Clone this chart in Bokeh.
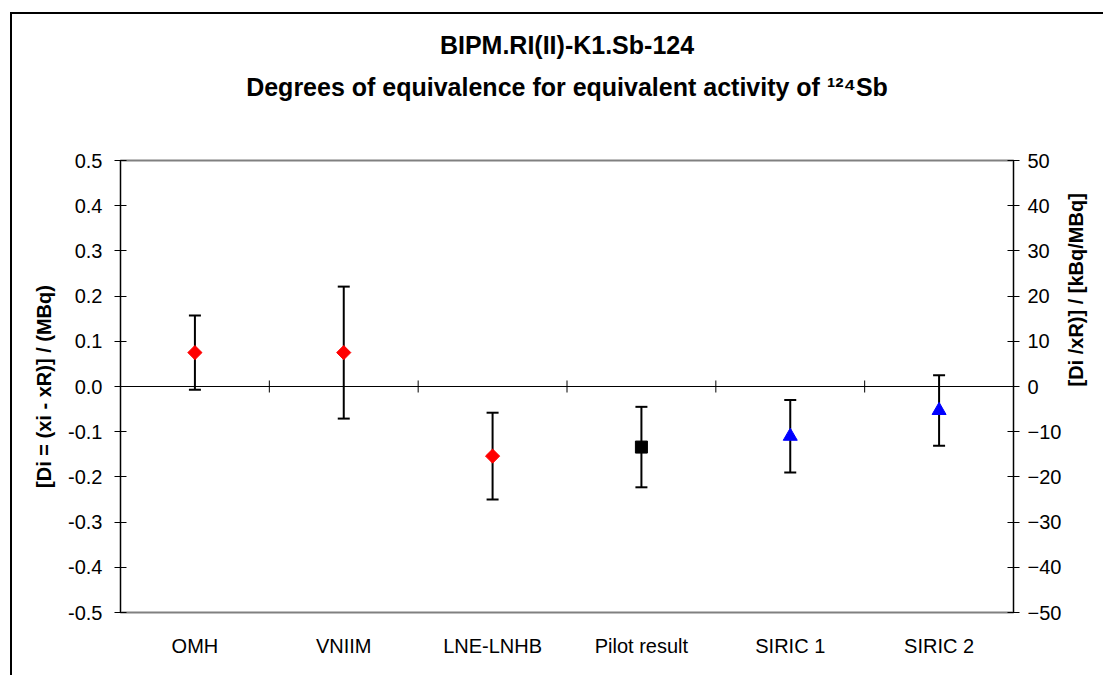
import math
from bokeh.plotting import figure
from bokeh.layouts import column
from bokeh.models import (Range1d, LinearAxis, FixedTicker, NumeralTickFormatter,
                          Whisker, TeeHead, ColumnDataSource, Span, Title)
from bokeh.embed import file_html
from bokeh.resources import INLINE

# ---------------- data ----------------
categories = ["OMH", "VNIIM", "LNE-LNHB", "Pilot result", "SIRIC 1", "SIRIC 2"]
di_values = [0.075, 0.075, -0.154, -0.134, -0.110, -0.053]
uncertainties = [0.082, 0.146, 0.096, 0.089, 0.080, 0.078]
groups = ["lab", "lab", "lab", "pilot", "siric", "siric"]
left_ticks = [-0.5, -0.4, -0.3, -0.2, -0.1, 0.0, 0.1, 0.2, 0.3, 0.4, 0.5]
right_ticks = [-50, -40, -30, -20, -10, 0, 10, 20, 30, 40, 50]
title_line1 = "BIPM.RI(II)-K1.Sb-124"
title_line2 = "Degrees of equivalence for equivalent activity of \u00b9\u00b2\u2074Sb"
left_label = "[Di = (xi - xR)] / (MBq)"
right_label = "[Di /xR)] / [kBq/MBq]"

FONT = "Liberation Sans"

xs = [i + 0.5 for i in range(len(categories))]
src = ColumnDataSource(dict(
    x=xs, y=di_values,
    upper=[v + u for v, u in zip(di_values, uncertainties)],
    lower=[v - u for v, u in zip(di_values, uncertainties)],
    group=groups,
))

p = figure(width=1091, height=661, output_backend="svg", toolbar_location=None,
           x_range=Range1d(0, len(categories)), y_range=Range1d(left_ticks[0], left_ticks[-1]),
           min_border_left=108, min_border_right=90, min_border_top=146, min_border_bottom=63)
p.extra_y_ranges = {"rel": Range1d(right_ticks[0], right_ticks[-1])}
p.xgrid.visible = False
p.ygrid.visible = False
p.outline_line_color = "#808080"
p.outline_line_width = 2
p.background_fill_color = "white"
p.border_fill_color = "white"

# invisible spacer between frame and titles
mid = len(categories) / 2
spacer = LinearAxis(ticker=FixedTicker(ticks=[mid]), major_label_overrides={mid: ""},
                    axis_line_color=None, major_tick_line_color=None,
                    minor_tick_line_color=None, major_tick_in=0, major_tick_out=55,
                    minor_tick_in=0, minor_tick_out=0, major_label_standoff=0,
                    major_label_text_font_size="1px")
p.add_layout(spacer, "above")

# titles (first added sits nearest the frame)
p.add_layout(Title(text=title_line2, align="center", text_font=FONT,
                   text_font_size="25px", text_font_style="bold", text_color="black",
                   standoff=10), "above")
p.add_layout(Title(text=title_line1, align="center", text_font=FONT, text_font_size="25px",
                   text_font_style="bold", text_color="black", standoff=14), "above")

# bottom category axis
xa = p.below[0]
xa.ticker = FixedTicker(ticks=xs)
xa.major_label_overrides = {x: c for x, c in zip(xs, categories)}
xa.major_tick_in = 0
xa.major_tick_out = 0
xa.minor_tick_line_color = None
xa.axis_line_color = None
xa.major_label_standoff = 22
xa.major_label_text_font = FONT
xa.major_label_text_font_size = "20px"
xa.major_label_text_color = "black"

# left axis
ya = p.left[0]
ya.ticker = FixedTicker(ticks=left_ticks)
ya.formatter = NumeralTickFormatter(format="0.0")
ya.major_tick_in = 6
ya.major_tick_out = 6
ya.minor_tick_line_color = None
ya.axis_line_color = "black"
ya.major_tick_line_color = "black"
ya.major_label_standoff = 12
ya.major_label_text_font = FONT
ya.major_label_text_font_size = "20px"
ya.major_label_text_color = "black"
ya.axis_label = left_label
ya.axis_label_text_font = FONT
ya.axis_label_text_font_size = "20px"
ya.axis_label_text_font_style = "bold"
ya.axis_label_text_color = "black"
ya.axis_label_standoff = 10

# right axis
ra = LinearAxis(y_range_name="rel", ticker=FixedTicker(ticks=right_ticks))
ra.major_tick_in = 6
ra.major_tick_out = 6
ra.minor_tick_line_color = None
ra.axis_line_color = "black"
ra.major_tick_line_color = "black"
ra.major_label_standoff = 8
ra.major_label_text_font = FONT
ra.major_label_text_font_size = "20px"
ra.major_label_text_color = "black"
ra.axis_label = right_label
ra.axis_label_text_font = FONT
ra.axis_label_text_font_size = "20px"
ra.axis_label_text_font_style = "bold"
ra.axis_label_text_color = "black"
ra.axis_label_standoff = 12
ra.axis_label_orientation = math.pi / 2
p.add_layout(ra, "right")

# zero line with category boundary ticks
p.add_layout(Span(location=0, dimension="width", line_color="black", line_width=1))
p.scatter(x=list(range(1, len(categories))), y=[0] * (len(categories) - 1), marker="dash",
          angle=math.pi / 2, size=12, line_color="black", line_width=1)

# error bars
p.add_layout(Whisker(source=src, base="x", upper="upper", lower="lower",
                     line_color="black", line_width=2,
                     upper_head=TeeHead(size=12, line_width=2, line_color="black"),
                     lower_head=TeeHead(size=12, line_width=2, line_color="black")))

lab_idx = [i for i, g in enumerate(groups) if g == "lab"]
pil_idx = [i for i, g in enumerate(groups) if g == "pilot"]
sir_idx = [i for i, g in enumerate(groups) if g == "siric"]
p.scatter(x=[xs[i] for i in lab_idx], y=[di_values[i] for i in lab_idx], marker="square",
          angle=math.pi / 4, size=10, fill_color="red", line_color="red")
p.scatter(x=[xs[i] for i in pil_idx], y=[di_values[i] for i in pil_idx], marker="square",
          size=12, fill_color="black", line_color="black")
p.scatter(x=[xs[i] for i in sir_idx], y=[di_values[i] for i in sir_idx], marker="triangle",
          size=14, fill_color="blue", line_color="blue")

layout = column(p, margin=(12, 0, 0, 10),
                styles={"border-left": "2px solid black", "border-top": "2px solid black"})

open("out.html", "w").write(file_html(layout, INLINE))
